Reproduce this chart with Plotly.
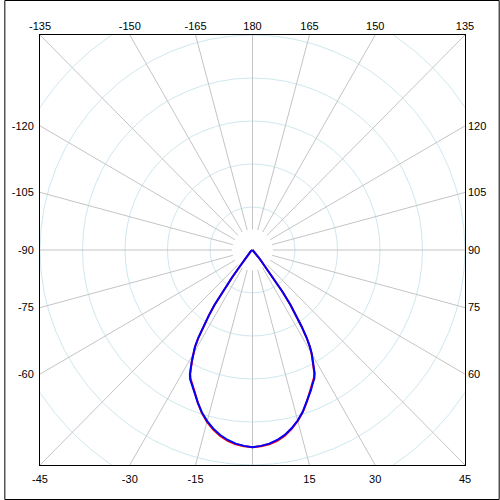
import numpy as np
import plotly.graph_objects as go

# ---- data (intensity units; box half-extent = 250 units) ----
angles = [0, 2.5, 5, 7.5, 10, 12.5, 15, 17.5, 20, 21, 22, 23, 24, 25, 26, 27, 28,
          29, 30, 31, 32, 33, 34, 35, 36, 37, 38, 39, 40, 42, 45, 50, 60, 70, 80, 90]
blue_right = [229.3, 228, 226, 222.8, 218.3, 212.3, 205.3, 197, 187.5, 183.5, 180,
              176.5, 172.5, 169, 166, 161, 153.5, 146, 139.5, 131, 120, 106, 92,
              78, 60, 40, 24, 15, 11, 7, 5, 3, 2, 1.2, 0.6, 0]
blue_left = [229.3, 228, 226, 222.8, 218.5, 212.8, 206, 198, 188.5, 184.5, 181,
             177.5, 173.8, 170.3, 167.3, 162.3, 154.5, 147, 140, 131.5, 120, 106, 92,
             78, 60, 40, 24, 15, 11, 7, 5, 3, 2, 1.2, 0.6, 0]
red_right = [229.3, 228.3, 226.8, 223.8, 219.3, 213, 205.8, 197.2, 187.5, 183.2, 179.5,
             175.8, 171.8, 168, 165, 160, 152.5, 145.2, 139, 130.8, 120, 106, 92,
             78, 60, 40, 24, 15, 11, 7, 5, 3, 2, 1.2, 0.6, 0]
red_left = [229.3, 228.3, 226.8, 223.8, 219.5, 213.8, 207, 198.5, 188.5, 184, 180.3,
            176.8, 172.8, 169.3, 166.3, 161.3, 153.8, 146.3, 139.5, 131.3, 120, 106, 92,
            78, 60, 40, 24, 15, 11, 7, 5, 3, 2, 1.2, 0.6, 0]

R = 250
grid_radii = [50, 100, 150, 200, 250, 300]
spoke_angles = list(range(0, 360, 15))
spoke_start = 24

bottom_ticks = [-45, -30, -15, 15, 30, 45]
top_ticks = [-135, -150, -165, 180, 165, 150, 135]
left_ticks = [-60, -75, -90, -105, -120]
right_ticks = [60, 75, 90, 105, 120]


def curve(right, left):
    th = [-a for a in angles[::-1]] + angles[1:]
    r = left[::-1] + right[1:]
    th = np.radians(th)
    r = np.array(r, dtype=float)
    return r * np.sin(th), -r * np.cos(th)


fig = go.Figure()
xr, yr = curve(red_right, red_left)
xb, yb = curve(blue_right, blue_left)
fig.add_trace(go.Scatter(x=xr, y=yr, mode="lines", line=dict(color="#ff0000", width=2),
                         showlegend=False, hoverinfo="skip"))
fig.add_trace(go.Scatter(x=xb, y=yb, mode="lines", line=dict(color="#0000ff", width=2),
                         showlegend=False, hoverinfo="skip"))
fig.add_trace(go.Scatter(x=[None], y=[None], xaxis="x2", yaxis="y2", showlegend=False))

shapes = []
for rr in grid_radii:
    shapes.append(dict(type="circle", xref="x", yref="y", x0=-rr, x1=rr, y0=-rr, y1=rr,
                       line=dict(color="#cfe7ef", width=1), layer="below"))
for a in spoke_angles:
    t = np.radians(a)
    shapes.append(dict(type="line", xref="x", yref="y",
                       x0=spoke_start * np.sin(t), y0=-spoke_start * np.cos(t),
                       x1=400 * np.sin(t), y1=-400 * np.cos(t),
                       line=dict(color="#c4c4c4", width=1), layer="below"))
W_plot, H_plot = 429, 430
shapes.append(dict(type="rect", xref="paper", yref="paper",
                   x0=-35.5 / W_plot, x1=1 + 34.5 / W_plot,
                   y0=-34.5 / H_plot, y1=1 + 34.5 / H_plot,
                   line=dict(color="black", width=1)))

font = dict(family="Liberation Sans, Arial", size=11, color="black")
common = dict(range=[-R, R], showgrid=False, zeroline=False, ticks="", tickfont=font,
              tickmode="array", fixedrange=True)

fig.update_layout(
    width=500, height=500,
    margin=dict(l=36, r=35, t=35, b=35),
    paper_bgcolor="white", plot_bgcolor="white",
    shapes=shapes,
    xaxis=dict(**common, tickvals=[R * np.tan(np.radians(a)) for a in bottom_ticks],
               ticktext=[str(a) for a in bottom_ticks], ticklabelstandoff=4,
               showline=True, linecolor="black", linewidth=1, mirror=True),
    yaxis=dict(**common, tickvals=[R / np.tan(np.radians(a)) for a in left_ticks],
               ticktext=[str(a) for a in left_ticks], ticklabelstandoff=3,
               showline=True, linecolor="black", linewidth=1, mirror=True),
    xaxis2=dict(**common, overlaying="x", side="top", anchor="y2",
                tickvals=[-R * np.tan(np.radians(a)) for a in top_ticks],
                ticktext=[str(a) for a in top_ticks], ticklabelstandoff=2),
    yaxis2=dict(**common, overlaying="y", side="right", anchor="x2",
                tickvals=[-R / np.tan(np.radians(a)) for a in right_ticks],
                ticktext=[str(a) for a in right_ticks], ticklabelstandoff=2),
)

fig.write_html("out.html", config={"displayModeBar": False},
               post_script="document.body.style.margin='0';")
